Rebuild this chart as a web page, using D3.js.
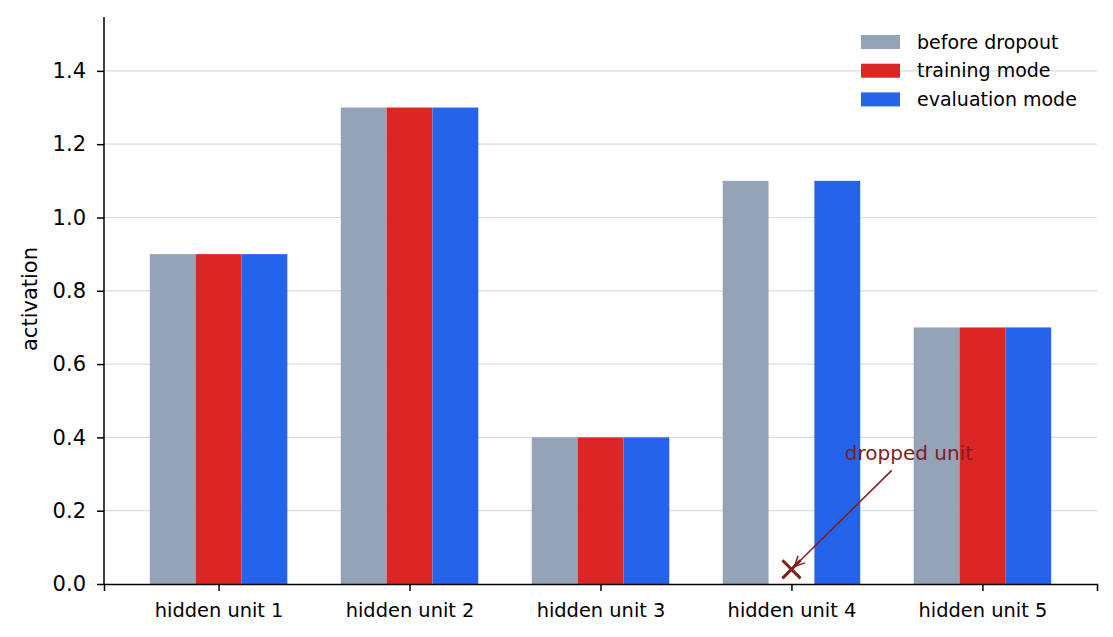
<!DOCTYPE html>
<html>
<head>
<meta charset="utf-8">
<script src="https://cdn.jsdelivr.net/npm/d3@7"></script>
<style>
  body { margin: 0; background: #fff; }
  svg, svg text { font-family: "DejaVu Sans", sans-serif; }
</style>
</head>
<body>
<svg id="chart" width="1113" height="637"></svg>
<script>
const units = ["hidden unit 1", "hidden unit 2", "hidden unit 3", "hidden unit 4", "hidden unit 5"];
const beforeDropout = [0.9, 1.3, 0.4, 1.1, 0.7];
const trainingMode = [0.9, 1.3, 0.4, 0.0, 0.7];
const evaluationMode = [0.9, 1.3, 0.4, 1.1, 0.7];
const seriesNames = ["before dropout", "training mode", "evaluation mode"];
const yTicks = [0.0, 0.2, 0.4, 0.6, 0.8, 1.0, 1.2, 1.4];

const colors = ["#94a3b8", "#dc2626", "#2563eb"];
const series = [beforeDropout, trainingMode, evaluationMode];
const font = "DejaVu Sans";

const plotL = 104, plotR = 1097, plotT = 17, plotB = 584;
const svg = d3.select("#chart");

// continuous x so group spacing matches
const x = d3.scaleLinear().domain([-0.6, 4.6]).range([plotL, plotR]);
const y = d3.scaleLinear().domain([0, 1.547]).range([plotB, plotT]);
const barW = 0.24;

// grid
svg.append("g")
    .selectAll("line")
    .data(yTicks.filter(t => t > 0))
    .join("line")
    .attr("x1", plotL).attr("x2", plotR)
    .attr("y1", d => y(d)).attr("y2", d => y(d))
    .attr("stroke", "#dadde4")
    .attr("stroke-width", 1.2);

// bars
series.forEach((vals, s) => {
    svg.append("g")
        .selectAll("rect")
        .data(vals)
        .join("rect")
        .attr("x", (d, i) => x(i + (s - 1) * barW - barW / 2))
        .attr("width", x(barW) - x(0))
        .attr("y", d => y(d))
        .attr("height", d => y(0) - y(d))
        .attr("fill", colors[s]);
});

// axes
const yAxis = svg.append("g")
    .attr("transform", `translate(${plotL},0)`)
    .call(d3.axisLeft(y).tickValues(yTicks).tickFormat(d3.format(".1f")).tickSizeOuter(0).tickSize(7).tickPadding(11));
yAxis.attr("font-family", font);
yAxis.select(".domain").attr("d", `M0,${plotT}V${plotB}`).attr("stroke-width", 1.5);
yAxis.selectAll(".tick line").attr("stroke-width", 1.5);
yAxis.selectAll("text").attr("font-size", 21).attr("fill", "#000");

const xAxis = svg.append("g")
    .attr("transform", `translate(0,${plotB})`)
    .call(d3.axisBottom(x).tickValues(d3.range(units.length)).tickFormat(i => units[i]).tickSizeOuter(0).tickSize(7).tickPadding(12));
xAxis.attr("font-family", font);
xAxis.select(".domain").attr("stroke-width", 1.5);
xAxis.selectAll(".tick line").attr("stroke-width", 1.5);
xAxis.selectAll("text").attr("font-size", 19.4).attr("fill", "#000");

svg.append("text")
    .attr("transform", "translate(37,299) rotate(-90)")
    .attr("text-anchor", "middle")
    .attr("font-size", 21)
    .text("activation");

// dropped unit marker + annotation
const dropX = x(3), dropY = y(0.04);
svg.append("path")
    .attr("d", d3.symbol(d3.symbolTimes, 215)())
    .attr("transform", `translate(${dropX},${dropY})`)
    .attr("fill", "none")
    .attr("stroke", "#7f1d1d")
    .attr("stroke-width", 3);

svg.append("defs").append("marker")
    .attr("id", "arr")
    .attr("viewBox", "0 0 12 12")
    .attr("refX", 11).attr("refY", 6)
    .attr("markerWidth", 12).attr("markerHeight", 12)
    .attr("markerUnits", "userSpaceOnUse")
    .attr("orient", "auto")
    .append("path")
    .attr("d", "M1,1L11,6L1,11")
    .attr("fill", "none")
    .attr("stroke", "#7f1d1d")
    .attr("stroke-width", 1.5);

svg.append("line")
    .attr("x1", x(3.525)).attr("y1", y(0.31))
    .attr("x2", dropX + 3).attr("y2", dropY - 3)
    .attr("stroke", "#7f1d1d")
    .attr("stroke-width", 1.5)
    .attr("marker-end", "url(#arr)");

svg.append("text")
    .attr("x", x(3.615)).attr("y", y(0.338))
    .attr("text-anchor", "middle")
    .attr("font-size", 20)
    .attr("fill", "#7f1d1d")
    .text("dropped unit");

// legend
const legend = svg.append("g").attr("transform", "translate(861,42)");
seriesNames.forEach((name, i) => {
    const g = legend.append("g").attr("transform", `translate(0,${i * 28.7})`);
    g.append("rect").attr("x", 0).attr("y", -7).attr("width", 39).attr("height", 14).attr("fill", colors[i]);
    g.append("text").attr("x", 56).attr("y", 6.5).attr("font-size", 19).text(name);
});
</script>
</body>
</html>
